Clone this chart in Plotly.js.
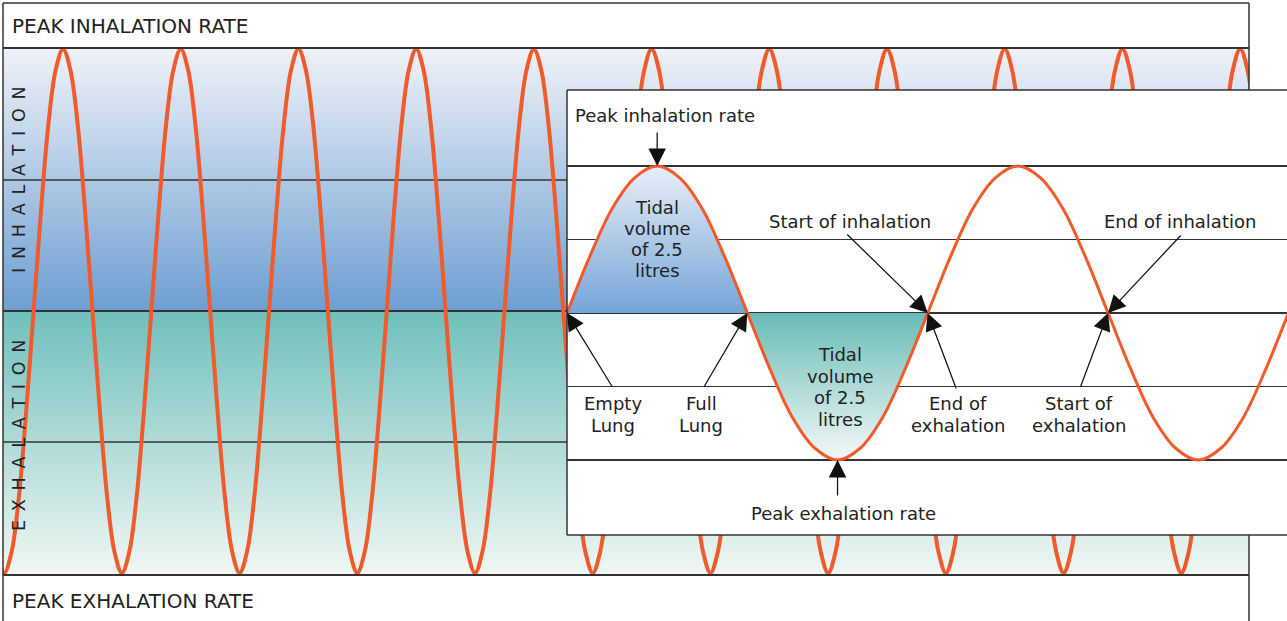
<!DOCTYPE html>
<html><head><meta charset="utf-8">
<script src="https://cdn.plot.ly/plotly-3.0.1.min.js"></script>
<style>html,body{margin:0;padding:0;background:#fff}#chart{width:1287px;height:621px}</style>
</head><body><div id="chart"></div>
<script>
// ---------- values ----------
// one breathing cycle of airflow (fraction of peak rate), sampled every 1/16 of a cycle
const cycleFlow = [0, 0.38, 0.71, 0.92, 1, 0.92, 0.71, 0.38, 0, -0.38, -0.71, -0.92, -1, -0.92, -0.71, -0.38];
const mainCycles = [-1, 0, 1, 2, 3, 4, 5, 6, 7, 8, 9, 10];   // breaths in the background strip
const insetCycles = [0, 1, 2];                                // breaths in the close-up
const mainLevels = [0.5, 0, -0.5];
const insetLevels = [-1, -0.5, 0, 0.5, 1];
const bandLabels = ['PEAK INHALATION RATE', 'PEAK EXHALATION RATE'];
const sideLabels = ['INHALATION', 'EXHALATION'];
const humpLabel = ['Tidal', 'volume', 'of 2.5', 'litres'];
// close-up callouts: text lines, arrow tip (cycle position, flow)
const callouts = [
  {lines: ['Peak inhalation rate'], t: 0.25, f: 1},
  {lines: ['Empty', 'Lung'], t: 0, f: 0},
  {lines: ['Full', 'Lung'], t: 0.5, f: 0},
  {lines: ['Peak exhalation rate'], t: 0.75, f: -1},
  {lines: ['Start of inhalation'], t: 1, f: 0},
  {lines: ['End of', 'exhalation'], t: 1, f: 0},
  {lines: ['End of inhalation'], t: 1.5, f: 0},
  {lines: ['Start of', 'exhalation'], t: 1.5, f: 0}
];

// ---------- layout helpers ----------
const W = 1287, H = 621;
const px = x => x / W, py = y => 1 - y / H;
const FONT = 'DejaVu Sans, Verdana, sans-serif';
const INK = '#222';
const WAVE = '#f15a2b';

const mainX = [-0.26, 10.325], mainY = [-1.0076, 1.0038];
const insX = [0, 1.996], insY = [-1.51, 1.517];

function wave(cycles) {
  const t = [], f = [];
  cycles.forEach(c => cycleFlow.forEach((v, k) => { t.push(c + k / 16); f.push(v); }));
  t.push(cycles[cycles.length - 1] + 1); f.push(cycleFlow[0]);
  return {t, f};
}
const mw = wave(mainCycles), iw = wave(insetCycles);

const traces = [];
// background gradient strips
traces.push({x: [mainX[0], mainX[1], mainX[1], mainX[0]], y: [0, 0, mainY[1], mainY[1]],
  type: 'scatter', mode: 'lines', fill: 'toself', line: {width: 0}, hoverinfo: 'skip',
  fillgradient: {type: 'vertical', colorscale: [[0, '#6d9fd1'], [1, '#eff2f8']]}, xaxis: 'x', yaxis: 'y'});
traces.push({x: [mainX[0], mainX[1], mainX[1], mainX[0]], y: [mainY[0], mainY[0], 0, 0],
  type: 'scatter', mode: 'lines', fill: 'toself', line: {width: 0}, hoverinfo: 'skip',
  fillgradient: {type: 'vertical', colorscale: [[0, '#f0f7f4'], [1, '#70bfbc']]}, xaxis: 'x', yaxis: 'y'});
mainLevels.forEach(lv => traces.push({x: mainX, y: [lv, lv], type: 'scatter', mode: 'lines',
  line: {color: '#333', width: lv === 0 ? 2 : 1.5}, hoverinfo: 'skip', xaxis: 'x', yaxis: 'y'}));
traces.push({x: mw.t, y: mw.f, type: 'scatter', mode: 'lines', line: {color: WAVE, width: 4, shape: 'spline', smoothing: 1},
  hoverinfo: 'skip', xaxis: 'x', yaxis: 'y'});

// close-up humps
const h1t = [], h1f = [], h2t = [], h2f = [];
for (let k = 0; k <= 8; k++) { h1t.push(k / 16); h1f.push(cycleFlow[k % 16]); }
for (let k = 8; k <= 16; k++) { h2t.push(k / 16); h2f.push(cycleFlow[k % 16]); }
traces.push({x: h1t, y: h1f, type: 'scatter', mode: 'lines', fill: 'toself', line: {width: 0, shape: 'spline', smoothing: 1},
  fillgradient: {type: 'vertical', colorscale: [[0, '#74a5d8'], [1, '#e9eef7']]}, hoverinfo: 'skip', xaxis: 'x2', yaxis: 'y2'});
traces.push({x: h2t, y: h2f, type: 'scatter', mode: 'lines', fill: 'toself', line: {width: 0, shape: 'spline', smoothing: 1},
  fillgradient: {type: 'vertical', colorscale: [[0, '#f3f8f8'], [1, '#69bcb6']]}, hoverinfo: 'skip', xaxis: 'x2', yaxis: 'y2'});
traces.push({x: iw.t, y: iw.f, type: 'scatter', mode: 'lines', line: {color: WAVE, width: 3, shape: 'spline', smoothing: 1},
  hoverinfo: 'skip', xaxis: 'x2', yaxis: 'y2'});

// ---------- frames ----------
const LC = '#333';
const seg = (x0, y0, x1, y1, w) => ({type: 'line', xref: 'paper', yref: 'paper', x0: px(x0), y0: py(y0), x1: px(x1), y1: py(y1),
  line: {color: LC, width: w || 1.5}, layer: 'above'});
const shapes = [
  // white panel of the close-up (drawn in its own subplot, above the background strip)
  {type: 'rect', xref: 'x2', yref: 'y2', x0: insX[0], x1: insX[1] + 0.1, y0: insY[0] - 0.1, y1: insY[1] + 0.1,
    fillcolor: '#fff', line: {width: 0}, layer: 'below'},
  seg(3, 3, 1249, 3), seg(3, 3, 3, 630), seg(3, 48, 1249, 48, 2), seg(3, 575, 1249, 575, 2),
  seg(1249, 3, 1249, 90), seg(1249, 535, 1249, 630),
  seg(567, 90, 1300, 90), seg(567, 90, 567, 535), seg(567, 535, 1300, 535)
];

// ---------- annotations ----------
const ann = [];
const FS = 18;
const txt = (text, x, y, opts) => Object.assign({text, xref: 'paper', yref: 'paper', x: px(x), y: py(y), showarrow: false,
  xanchor: 'center', yanchor: 'middle', borderpad: 0, font: {family: FONT, size: FS, color: INK}}, opts || {});
const block = (lines, cx, cy, gap) => lines.forEach((s, j) =>
  ann.push(txt(s, cx, cy + (j - (lines.length - 1) / 2) * gap)));
ann.push(txt(bandLabels[0], 11, 26, {xanchor: 'left', font: {family: FONT, size: 20, color: INK}}));
ann.push(txt(bandLabels[1], 11, 601, {xanchor: 'left', font: {family: FONT, size: 20, color: INK}}));
const spaced = s => s.split('').join('\u2002');
ann.push(txt(spaced(sideLabels[0]), 19, 180, {textangle: -90, font: {family: FONT, size: 17.5, color: INK}}));
ann.push(txt(spaced(sideLabels[1]), 19, 436, {textangle: -90, font: {family: FONT, size: 17.5, color: INK}}));
block(humpLabel, 657, 239, 21);
block(humpLabel, 840, 387, 21.5);

const textPos = [[665, 116], [613, 414], [701, 414], [843, 513], [850, 221], [958, 414], [1180, 221], [1079, 414]];
const tails = [[0, -35], [46, 75], [-44, 75], [0, 37], [-82, -80], [29, 77], [74, -79], [-28, 75]];
callouts.forEach((c, i) => {
  block(c.lines, textPos[i][0], textPos[i][1], 22);
  ann.push({text: '', xref: 'x2', yref: 'y2', x: c.t, y: c.f, ax: tails[i][0], ay: tails[i][1], showarrow: true,
    arrowhead: 2, arrowsize: 2.8, arrowwidth: 1.25, arrowcolor: '#111', standoff: 0});
});

const hidden = {visible: false, fixedrange: true};
const layout = {
  width: W, height: H, margin: {l: 0, r: 0, t: 0, b: 0}, paper_bgcolor: '#fff', plot_bgcolor: 'rgba(0,0,0,0)',
  showlegend: false,
  xaxis: Object.assign({domain: [px(3), px(1249)], range: mainX}, hidden),
  yaxis: Object.assign({domain: [py(575), py(48)], range: mainY}, hidden),
  xaxis2: Object.assign({domain: [px(567), 1], range: insX, anchor: 'y2'}, hidden),
  yaxis2: {domain: [py(535), py(90)], range: insY, anchor: 'x2', showgrid: true, tickvals: insetLevels,
    gridcolor: '#333', gridwidth: 1.3, showticklabels: false, ticks: '', zeroline: false, showline: false, fixedrange: true},
  shapes, annotations: ann
};
Plotly.newPlot('chart', traces, layout, {displayModeBar: false, staticPlot: true});
</script></body></html>
